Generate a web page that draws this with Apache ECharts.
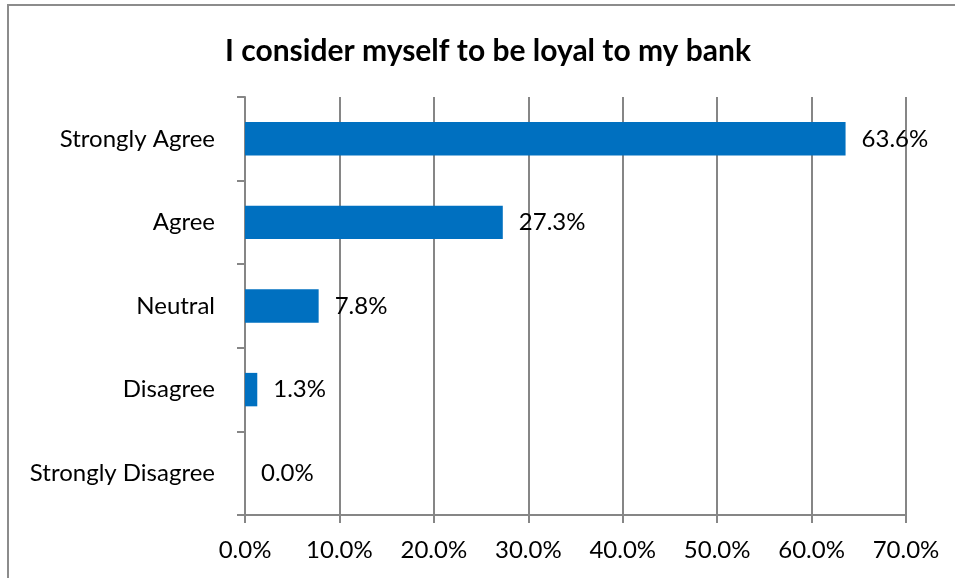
<!DOCTYPE html>
<html>
<head>
<meta charset="utf-8">
<script src="https://cdn.jsdelivr.net/npm/echarts@6/dist/echarts.min.js"></script>
<style>
  html, body { margin: 0; padding: 0; background: #fff; }
  #chart { width: 955px; height: 578px; }
</style>
</head>
<body>
<div id="chart"></div>
<script>
// Survey responses, listed bottom to top as the category axis draws them
const categories = ['Strongly Disagree', 'Disagree', 'Neutral', 'Agree', 'Strongly Agree'];
const shares = [0.0, 1.3, 7.8, 27.3, 63.6];
const titleText = 'I consider myself to be loyal to my bank';

const FONT = 'Lato, "Open Sans", sans-serif';
const chart = echarts.init(document.getElementById('chart'));

chart.setOption({
  animation: false,
  backgroundColor: '#ffffff',
  graphic: [{
    type: 'rect',
    shape: { x: 8, y: 5, width: 960, height: 590 },
    style: { fill: 'none', stroke: '#8c8c8c', lineWidth: 2 },
    silent: true
  }],
  title: {
    text: titleText,
    left: 483,
    top: 31,
    textAlign: 'center',
    textStyle: { fontFamily: FONT, fontWeight: 'bold', fontSize: 30, color: '#000' }
  },
  grid: { left: 245, right: 49, top: 97, bottom: 63, containLabel: false },
  xAxis: {
    type: 'value',
    min: 0,
    max: 70,
    interval: 10,
    axisLine: { show: true, lineStyle: { color: '#868686', width: 2 } },
    axisTick: { show: true, length: 8, lineStyle: { color: '#868686', width: 2 } },
    axisLabel: {
      formatter: v => v.toFixed(1) + '%',
      fontFamily: FONT, fontSize: 24, color: '#000', margin: 23
    },
    splitLine: { show: true, lineStyle: { color: '#868686', width: 2 } }
  },
  yAxis: {
    type: 'category',
    data: categories,
    axisLine: { show: true, lineStyle: { color: '#868686', width: 2 } },
    axisTick: { show: true, length: 8, inside: false, lineStyle: { color: '#868686', width: 2 } },
    axisLabel: { fontFamily: FONT, fontSize: 24, color: '#000', margin: 30 },
    splitLine: { show: false }
  },
  series: [{
    type: 'bar',
    data: shares,
    barWidth: '40%',
    itemStyle: { color: '#0070C0' },
    label: {
      show: true,
      position: 'right',
      distance: 16,
      formatter: p => p.value.toFixed(1) + '%',
      fontFamily: FONT, fontSize: 24, color: '#000'
    }
  }]
});
</script>
</body>
</html>
